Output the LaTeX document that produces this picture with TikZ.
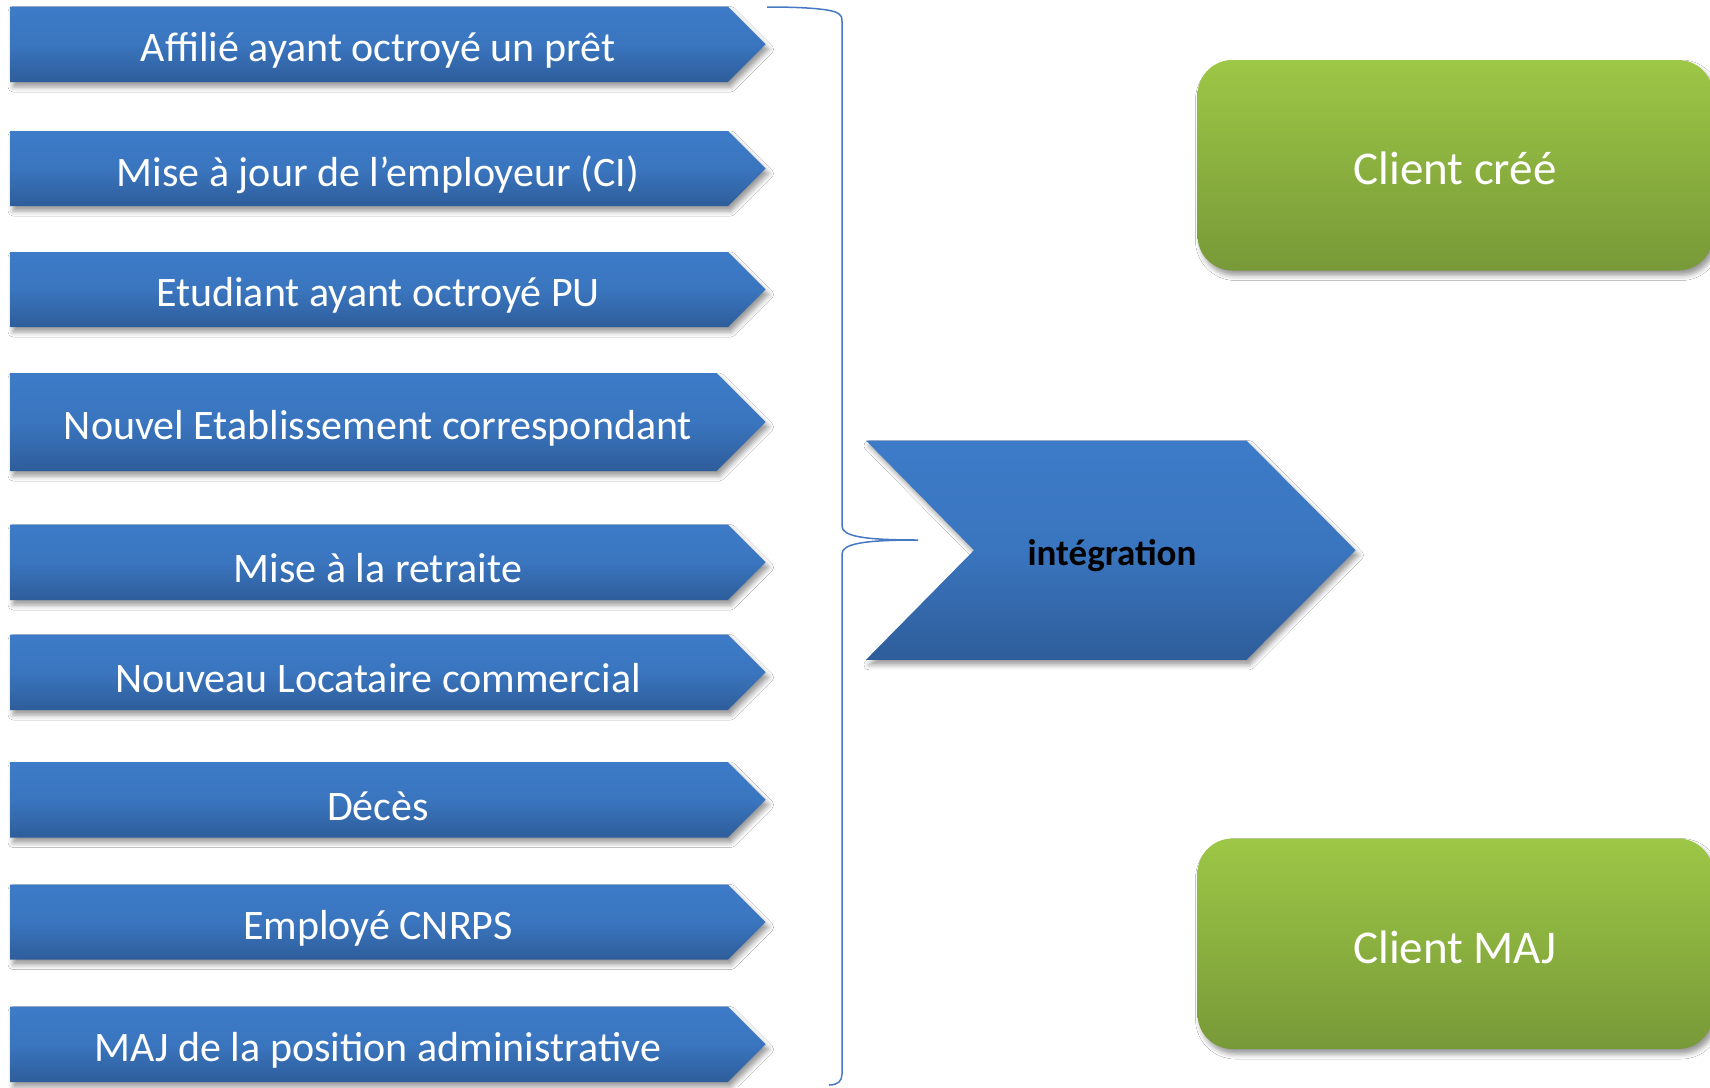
\documentclass[tikz,border=0pt]{standalone}
\usepackage{fontspec}
\setmainfont{Carlito}
\usetikzlibrary{shadows.blur}
\definecolor{bluetop}{RGB}{61,123,200}
\definecolor{bluebot}{RGB}{46,93,154}
\definecolor{greentop}{RGB}{157,199,70}
\definecolor{greenbot}{RGB}{120,153,56}
\definecolor{bracecol}{RGB}{70,120,195}
\tikzset{
  arrowfill/.style={top color=bluetop, bottom color=bluebot, middle color=bluetop!80!bluebot,
    blur shadow={shadow xshift=3pt, shadow yshift=-5pt, shadow blur radius=5pt, shadow opacity=40}},
  greenfill/.style={top color=greentop, bottom color=greenbot, rounded corners=35pt,
    blur shadow={shadow xshift=3pt, shadow yshift=-5pt, shadow blur radius=5pt, shadow opacity=40}},
  arrtext/.style={text=white, font=\fontsize{42}{46}\selectfont, inner sep=0pt},
  greentext/.style={text=white, font=\fontsize{47}{52}\selectfont, inner sep=0pt},
  integtext/.style={text=black, font=\bfseries\fontsize{37}{40}\selectfont, inner sep=0pt},
  bracestyle/.style={draw=bracecol, line width=1.5pt}
}
\newcommand\bluearrow[4]{%
  \pgfmathsetmacro\mymid{(#2+#3)/2}%
  \pgfmathsetmacro\mybody{765.6-(#3-#2)/2}%
  \pgfmathsetmacro\mytext{\mymid+6}%
  \path[arrowfill] (10,#2) -- (\mybody,#2) -- (765.6,\mymid) -- (\mybody,#3) -- (10,#3) -- cycle;
  \node[arrtext] (#1) at (378,\mytext) {#4};
}
\begin{document}
\begin{tikzpicture}[x=1pt,y=-1pt]
\useasboundingbox (0,0) rectangle (1710,1087);
\fill[white] (0,0) rectangle (1710,1087);
\clip (0,0) rectangle (1710,1087);

\bluearrow{a1}{6.5}{82}{Affilié ayant octroyé un prêt}
\bluearrow{a2}{131}{206}{Mise à jour de l’employeur (CI)}
\bluearrow{a3}{252}{327}{Etudiant ayant octroyé PU}
\bluearrow{a4}{373}{471}{Nouvel Etablissement correspondant}
\bluearrow{a5}{524.6}{600}{Mise à la retraite}
\bluearrow{a6}{634.7}{710}{Nouveau Locataire commercial}
\bluearrow{a7}{762}{837.6}{Décès}
\bluearrow{a8}{884.5}{959.7}{Employé CNRPS}
\bluearrow{a9}{1006.6}{1082}{MAJ de la position administrative}

% brace
\coordinate (btop) at (767,7);
\coordinate (btip) at (918,540);
\coordinate (bbot) at (829,1085);
\draw[bracestyle] (btop) .. controls (805,7) and (834,9) .. (839,14)
  .. controls (842,17) .. (842,24) -- (842,526)
  .. controls (842,536) and (862,540) .. (btip)
  .. controls (862,540) and (842,544) .. (842,554) -- (842,1074)
  .. controls (842,1081) and (838,1085) .. (bbot);

% integration chevron
\path[arrowfill] (866,440.6) -- (1246.5,440.6) -- (1355.6,550.2) -- (1246.5,659.8) -- (866,659.8) -- (974,550.2) -- cycle;
\node[integtext] (integ) at (1112,556) {intégration};

% green boxes
\path[greenfill] (1197.5,60) rectangle (1713,270.5);
\node[greentext] (cree) at (1455,168) {Client créé};
\path[greenfill] (1197.5,838.5) rectangle (1713,1049);
\node[greentext] (maj) at (1455,947) {Client MAJ};
\end{tikzpicture}
\end{document}
